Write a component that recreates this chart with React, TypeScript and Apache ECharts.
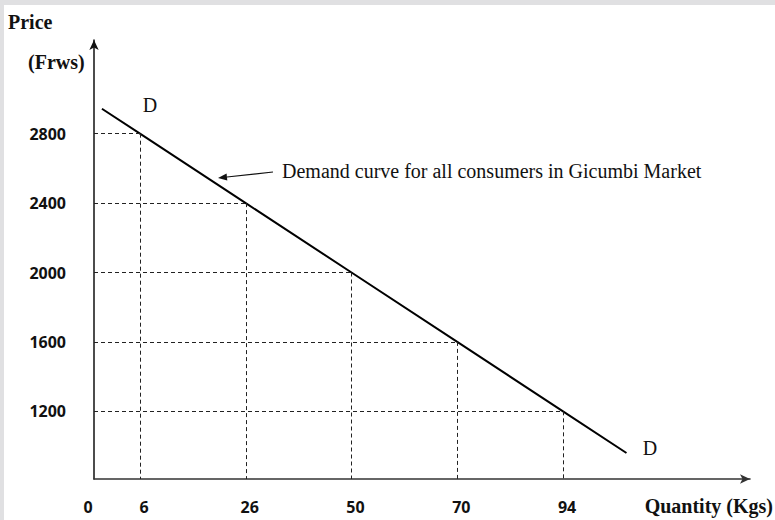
import React, { useEffect, useRef } from "react";
import * as echarts from "echarts";

// ---- data ----
const quantities = [6, 26, 50, 70, 94];
const prices = [2800, 2400, 2000, 1600, 1200];
const priceTicks = [2800, 2400, 2000, 1600, 1200];
const originLabel = "0";
const xAxisTitle = "Quantity (Kgs)";
const yAxisTitle = ["Price", "(Frws)"];
const curveName = "D";
const annotation = "Demand curve for all consumers in Gicumbi Market";

// ---- layout ----
const X_MIN = -0.435;
const X_MAX = 5.768;
const Y_MIN = 810;
const Y_MAX = 3340;
const EXT_BEFORE = 0.36;
const EXT_AFTER = 0.6;

const SERIF = "'Liberation Serif', 'Times New Roman', serif";
const SANS = "'Open Sans', 'Liberation Sans', sans-serif";

export default function App() {
  const ref = useRef<HTMLDivElement>(null);

  useEffect(() => {
    if (!ref.current) return;
    const chart = echarts.init(ref.current, null, { renderer: "svg" });
    const n = quantities.length;
    const pts = quantities.map((_, i) => [i, prices[i]]);
    const first = [
      -EXT_BEFORE,
      prices[0] + (prices[0] - prices[1]) * EXT_BEFORE,
    ];
    const last = [
      n - 1 + EXT_AFTER,
      prices[n - 1] + (prices[n - 1] - prices[n - 2]) * EXT_AFTER,
    ];
    const demand = [first, ...pts, last];

    const dashed: any[] = [];
    pts.forEach(([i, p]) => {
      dashed.push([{ coord: [X_MIN, p] }, { coord: [i, p] }]);
      dashed.push([{ coord: [i, p] }, { coord: [i, Y_MIN] }]);
    });

    const tip = [218, 178];
    const from = [273, 172];
    const dx = tip[0] - from[0];
    const dy = tip[1] - from[1];
    const len = Math.sqrt(dx * dx + dy * dy);
    const ux = dx / len;
    const uy = dy / len;
    const ah = 9;
    const aw = 3.5;
    const bx = tip[0] - ux * ah;
    const by = tip[1] - uy * ah;

    chart.setOption({
      animation: false,
      backgroundColor: "#ffffff",
      grid: { left: 94, right: 25, top: 40, bottom: 41 },
      xAxis: {
        type: "value",
        min: X_MIN,
        max: X_MAX,
        splitLine: { show: false },
        axisTick: { show: false },
        axisLine: {
          show: true,
          onZero: false,
          symbol: ["none", "arrow"],
          symbolSize: [7, 10],
          lineStyle: { color: "#333", width: 1.6 },
        },
        axisLabel: {
          customValues: quantities.map((_, i) => i),
          formatter: (v: number) => String(quantities[Math.round(v)]),
          fontFamily: SANS,
          fontWeight: 700,
          fontSize: 16,
          color: "#111",
          margin: 20,
          padding: [0, 0, 0, 8],
        },
      },
      yAxis: {
        type: "value",
        min: Y_MIN,
        max: Y_MAX,
        splitLine: { show: false },
        axisTick: { show: false },
        axisLine: {
          show: true,
          onZero: false,
          symbol: ["none", "arrow"],
          symbolSize: [7, 10],
          lineStyle: { color: "#111", width: 1.5 },
        },
        axisLabel: {
          customValues: priceTicks,
          formatter: (v: number) => String(v),
          fontFamily: SANS,
          fontWeight: 700,
          fontSize: 16,
          color: "#111",
          margin: 28,
        },
      },
      series: [
        {
          type: "line",
          name: curveName,
          data: demand,
          showSymbol: false,
          symbol: "none",
          lineStyle: { color: "#000", width: 2 },
          silent: true,
          markLine: {
            silent: true,
            symbol: ["none", "none"],
            label: { show: false },
            lineStyle: { color: "#222", width: 1, type: [4, 3] },
            data: dashed,
          },
          z: 3,
        },
      ],
      graphic: [
        { type: "rect", shape: { x: 0, y: 0, width: 775, height: 5 }, style: { fill: "#e0e0e2" }, silent: true },
        { type: "rect", shape: { x: 0, y: 0, width: 4, height: 520 }, style: { fill: "#e0e0e2" }, silent: true },
        {
          type: "text",
          x: 8,
          y: 22,
          style: { text: yAxisTitle[0], font: `bold 20px ${SERIF}`, fill: "#111", textVerticalAlign: "middle" },
        },
        {
          type: "text",
          x: 28,
          y: 62,
          style: { text: yAxisTitle[1], font: `bold 20px ${SERIF}`, fill: "#111", textVerticalAlign: "middle" },
        },
        {
          type: "text",
          x: 773,
          y: 506,
          style: { text: xAxisTitle, font: `bold 20px ${SERIF}`, fill: "#111", textAlign: "right", textVerticalAlign: "middle" },
        },
        {
          type: "text",
          x: 88,
          y: 507,
          style: { text: originLabel, font: `bold 16px ${SANS}`, fill: "#111", textAlign: "center", textVerticalAlign: "middle" },
        },
        {
          type: "text",
          x: 150,
          y: 105,
          style: { text: curveName, font: `20px ${SERIF}`, fill: "#111", textAlign: "center", textVerticalAlign: "middle" },
        },
        {
          type: "text",
          x: 650,
          y: 448,
          style: { text: curveName, font: `20px ${SERIF}`, fill: "#111", textAlign: "center", textVerticalAlign: "middle" },
        },
        {
          type: "text",
          x: 282,
          y: 171,
          style: { text: annotation, font: `20px ${SERIF}`, fill: "#111", textVerticalAlign: "middle" },
        },
        {
          type: "line",
          shape: { x1: from[0], y1: from[1], x2: bx, y2: by },
          style: { stroke: "#111", lineWidth: 1.2 },
        },
        {
          type: "polygon",
          shape: {
            points: [
              [tip[0], tip[1]],
              [bx - uy * aw, by + ux * aw],
              [bx + uy * aw, by - ux * aw],
            ],
          },
          style: { fill: "#111" },
        },
      ],
    });
    return () => chart.dispose();
  }, []);

  return (
    <div
      ref={ref}
      style={{ position: "fixed", left: 0, top: 0, width: 775, height: 520 }}
    />
  );
}
